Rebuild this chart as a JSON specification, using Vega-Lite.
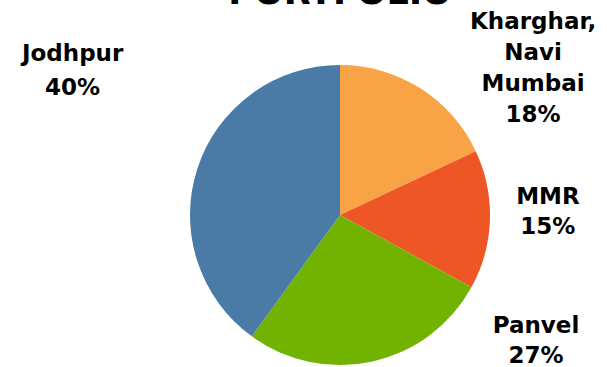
{
  "$schema": "https://vega.github.io/schema/vega-lite/v6.json",
  "width": 300,
  "height": 300,
  "autosize": {"type": "none"},
  "padding": {"left": 190, "top": 65, "right": 117, "bottom": 2},
  "background": "white",
  "view": {"stroke": null},
  "title": {"text": "PORTFOLIO", "fontSize": 35, "font": "DejaVu Sans", "fontWeight": "bold", "color": "black", "offset": -28, "baseline": "alphabetic", "anchor": "middle", "frame": "group"},
  "data": {"values": [
    {"name": "Kharghar,\nNavi\nMumbai", "pct": 18, "idx": 1},
    {"name": "MMR", "pct": 15, "idx": 2},
    {"name": "Panvel", "pct": 27, "idx": 3},
    {"name": "Jodhpur", "pct": 40, "idx": 4}
  ]},
  "transform": [
    {"stack": "pct", "groupby": [], "sort": [{"field": "idx", "order": "ascending"}], "as": ["s0", "s1"]},
    {"calculate": "(datum.s0 + datum.s1) / 2", "as": "mid"},
    {"calculate": "datum.name + '\\n' + datum.pct + '%'", "as": "label"}
  ],
  "layer": [
    {
      "mark": {"type": "arc", "outerRadius": 150},
      "encoding": {
        "theta": {"field": "s0", "type": "quantitative", "scale": {"domain": [0, 100]}},
        "theta2": {"field": "s1"},
        "color": {"field": "name", "type": "nominal", "legend": null,
          "scale": {"domain": ["Kharghar,\nNavi\nMumbai", "MMR", "Panvel", "Jodhpur"], "range": ["#F8A345", "#EF5626", "#72B200", "#4A7BA6"]}}
      }
    },
    {
      "transform": [{"filter": "datum.idx == 1"}],
      "mark": {"type": "text", "radius": 226, "dx": 72, "dy": -2, "font": "DejaVu Sans", "fontWeight": "bold", "fontSize": 23, "lineBreak": "\n", "lineHeight": 31, "align": "center", "baseline": "middle", "color": "black"},
      "encoding": {"theta": {"field": "mid", "type": "quantitative", "scale": {"domain": [0, 100]}}, "text": {"field": "label"}}
    },
    {
      "transform": [{"filter": "datum.idx == 2"}],
      "mark": {"type": "text", "radius": 208, "dx": 0, "dy": -25, "font": "DejaVu Sans", "fontWeight": "bold", "fontSize": 23, "lineBreak": "\n", "lineHeight": 30, "align": "center", "baseline": "middle", "color": "black"},
      "encoding": {"theta": {"field": "mid", "type": "quantitative", "scale": {"domain": [0, 100]}}, "text": {"field": "label"}}
    },
    {
      "transform": [{"filter": "datum.idx == 3"}],
      "mark": {"type": "text", "radius": 165, "dx": 160, "dy": -50, "font": "DejaVu Sans", "fontWeight": "bold", "fontSize": 23, "lineBreak": "\n", "lineHeight": 30, "align": "center", "baseline": "middle", "color": "black"},
      "encoding": {"theta": {"field": "mid", "type": "quantitative", "scale": {"domain": [0, 100]}}, "text": {"field": "label"}}
    },
    {
      "transform": [{"filter": "datum.idx == 4"}],
      "mark": {"type": "text", "radius": 299, "dx": 17, "dy": -69, "font": "DejaVu Sans", "fontWeight": "bold", "fontSize": 23, "lineBreak": "\n", "lineHeight": 34, "align": "center", "baseline": "middle", "color": "black"},
      "encoding": {"theta": {"field": "mid", "type": "quantitative", "scale": {"domain": [0, 100]}}, "text": {"field": "label"}}
    }
  ]
}
